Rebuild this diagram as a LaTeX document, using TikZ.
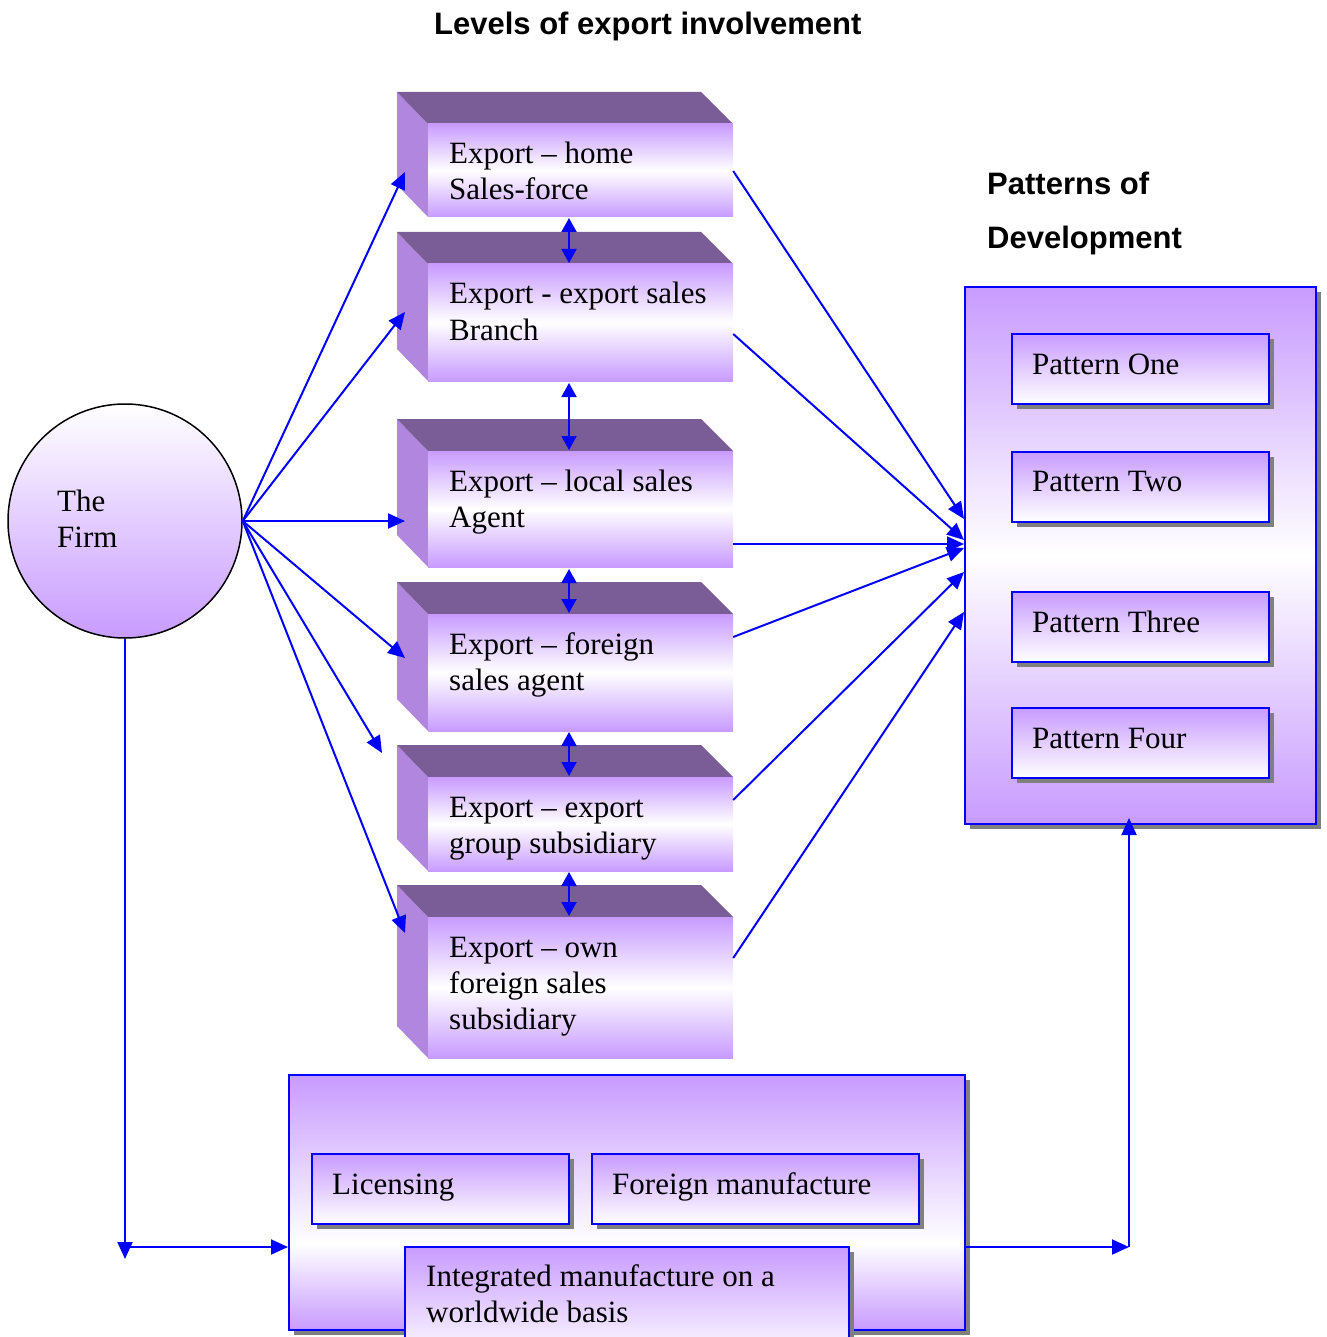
\documentclass[tikz,border=0pt]{standalone}
\usepackage{fontspec}
\setmainfont{Liberation Serif}
\setsansfont{Liberation Sans}
\usetikzlibrary{arrows.meta,calc,shadows}

\definecolor{vio}{RGB}{200,155,255}
\definecolor{topface}{RGB}{122,92,150}
\definecolor{sideface}{RGB}{176,134,222}
\definecolor{shadowgray}{RGB}{128,128,128}
\definecolor{lineblue}{RGB}{0,0,255}

% purple - white - purple, with the white band low in the box
\pgfdeclareverticalshading{lowfade}{100bp}{color(0bp)=(vio); color(25bp)=(vio); color(42bp)=(white); color(75bp)=(vio); color(100bp)=(vio)}

% one export level: side face, top face, front face and its text
% #1 name, #2 top of front face, #3 bottom, #4 text
\newcommand\levelbox[4]{%
  \fill[sideface] (397,{#2-32}) -- (428,#2) -- (428,#3) -- (397,{#3-32}) -- cycle;
  \fill[topface] (397,{#2-32}) -- (701,{#2-32}) -- (733,#2) -- (428,#2) -- cycle;
  \node[face, minimum width=305pt, minimum height={(#3-#2)*1pt}] (#1) at (580.5,{(#2+#3)/2}) {};
  \node[txt] (#1t) at (449,{#2+40}) {\begin{tabular}[t]{@{}l@{}}#4\end{tabular}};
}

\begin{document}
\begin{tikzpicture}[x=1pt,y=-1pt,
  conn/.style={draw=lineblue, line width=2pt, -{Triangle[length=17pt,width=15pt]}},
  dconn/.style={draw=lineblue, line width=2pt, {Triangle[length=14pt,width=15pt]}-{Triangle[length=14pt,width=15pt]}},
  txt/.style={anchor=base west, inner sep=0pt, font=\fontsize{31}{36}\selectfont},
  head/.style={anchor=base west, inner sep=0pt, font=\sffamily\bfseries\fontsize{31}{36}\selectfont},
  face/.style={rectangle, inner sep=0pt, top color=vio, bottom color=vio, middle color=white},
  framed/.style={rectangle, inner sep=0pt, draw=lineblue, line width=2pt,
    general shadow={fill=shadowgray, shadow xshift=5pt, shadow yshift=-5pt}},
  patbox/.style={framed, top color=vio, bottom color=white, minimum height=70pt},
]
\useasboundingbox (0,0) rectangle (1326,1337);
\clip (0,0) rectangle (1326,1337);

% headings
\node[head] (title) at (434,35) {Levels of export involvement};
\node[head] (pathead1) at (987,195) {Patterns of};
\node[head] (pathead2) at (987,249) {Development};

% the firm
\node[circle, draw=black, line width=1.5pt, top color=white, bottom color=vio,
      minimum size=234pt, inner sep=0pt] (firm) at (125,521) {};
\node[txt] (firmt) at (57,511) {\begin{tabular}[t]{@{}l@{}}The\\Firm\end{tabular}};

% levels of export involvement
\levelbox{b1}{124}{217}{Export – home\\Sales-force}
\levelbox{b2}{264}{381}{Export - export sales\\Branch}
\levelbox{b3}{451}{567}{Export – local sales\\Agent}
\levelbox{b4}{614}{731}{Export – foreign\\sales agent}
\levelbox{b5}{777}{871}{Export – export\\group subsidiary}
\levelbox{b6}{917}{1058}{Export – own\\foreign sales\\subsidiary}

% patterns of development
\node[framed, face, minimum width=351pt, minimum height=537pt] (pat) at (1140.5,555.5) {};
\node[patbox, minimum width=257pt] (p1) at (1140.5,369) {};
\node[patbox, minimum width=257pt] (p2) at (1140.5,486.5) {};
\node[patbox, minimum width=257pt] (p3) at (1140.5,626.5) {};
\node[patbox, minimum width=257pt] (p4) at (1140.5,743) {};
\node[txt] (p1t) at (1032,374) {Pattern One};
\node[txt] (p2t) at (1032,491) {Pattern Two};
\node[txt] (p3t) at (1032,632) {Pattern Three};
\node[txt] (p4t) at (1032,748) {Pattern Four};

% manufacturing abroad
\node[framed, shading=lowfade, minimum width=676pt, minimum height=255pt] (mfg) at (627,1202.5) {};
\node[patbox, minimum width=257pt] (lic) at (440.5,1189) {};
\node[patbox, minimum width=327pt] (fman) at (755.5,1189) {};
\node[patbox, minimum width=444pt, minimum height=113pt] (integ) at (627,1303.5) {};
\node[txt] (lict) at (332,1194) {Licensing};
\node[txt] (fmant) at (612,1194) {Foreign manufacture};
\node[txt] (integt) at (426,1286) {\begin{tabular}[t]{@{}l@{}}Integrated manufacture on a\\worldwide basis\end{tabular}};

% arrow ends
\coordinate (in1) at (405,172);
\coordinate (in2) at (405,312);
\coordinate (in3) at (405,521);
\coordinate (in4) at (405,658);
\coordinate (in5) at (382,753);
\coordinate (in6) at (405,933);
\coordinate (out1) at (b1.east |- 0,171);
\coordinate (out2) at (b2.east |- 0,334);
\coordinate (out3) at (b3.east |- 0,544);
\coordinate (out4) at (b4.east |- 0,637);
\coordinate (out5) at (b5.east |- 0,800);
\coordinate (out6) at (b6.east |- 0,958);
\coordinate (pin1) at (pat.west |- 0,519);
\coordinate (pin2) at (pat.west |- 0,540);
\coordinate (pin3) at (pat.west |- 0,544);
\coordinate (pin4) at (pat.west |- 0,548);
\coordinate (pin5) at (pat.west |- 0,572);
\coordinate (pin6) at (pat.west |- 0,612);
\coordinate (firmdown) at (125,1259);
\coordinate (firmcorner) at (125,1247);
\coordinate (mfgin) at (mfg.west |- 0,1247);
\coordinate (mfgout) at (mfg.east |- 0,1247);
\coordinate (rcorner) at (1129,1247);
\coordinate (patup) at (1129,818);

% firm to each level
\foreach \i in {1,...,6} \draw[conn] (firm.east) -- (in\i);

% links between neighbouring levels
\draw[dconn] (569,218) -- (569,263);
\draw[dconn] (569,383) -- (569,450);
\draw[dconn] (569,569) -- (569,613);
\draw[dconn] (569,732) -- (569,776);
\draw[dconn] (569,872) -- (569,916);

% levels into the patterns
\foreach \i in {1,...,6} \draw[conn] (out\i) -- (pin\i);

% firm to manufacturing abroad, and on to the patterns
\draw[conn] (firm.south) -- (firmdown);
\draw[conn] (firmcorner) -- (mfgin);
\draw[conn] (mfgout) -- (rcorner);
\draw[conn] (rcorner) -- (patup);
\end{tikzpicture}
\end{document}
